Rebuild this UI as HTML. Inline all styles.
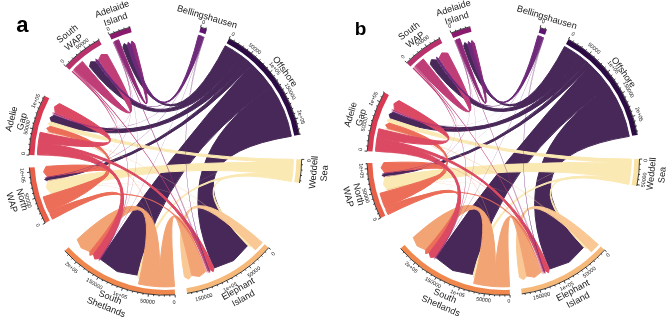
<!DOCTYPE html><html><head><meta charset="utf-8"><style>html,body{margin:0;padding:0;background:#fff;}svg{display:block;will-change:transform;}</style></head><body><svg width="669" height="320" viewBox="0 0 669 320" font-family="Liberation Sans, sans-serif">
<rect width="669" height="320" fill="#fff"/>
<g transform="translate(0,0)">
<g>
<path d="M225.25,45.78A128,128 0 0 1 232.04,49.65Q164.85,163.44 122.91,47.19L124.16,43.53L127.43,45.58Q164.88,163.71 225.25,45.78Z" fill="#472858" fill-opacity="1" stroke="#472858" stroke-opacity="1" stroke-width="1.0"/>
<path d="M232.04,49.65A128,128 0 0 1 241.31,55.87Q165.35,162.36 89.5,66.56L90.69,61.78L95.62,61.86Q165.41,162.77 232.04,49.65Z" fill="#472858" fill-opacity="1" stroke="#472858" stroke-opacity="1" stroke-width="1.0"/>
<path d="M241.31,55.87A128,128 0 0 1 247.63,60.85Q165.75,160.62 51.63,122.17L49.98,117.71L54.09,115.3Q165.84,160.94 241.31,55.87Z" fill="#472858" fill-opacity="1" stroke="#472858" stroke-opacity="1" stroke-width="1.0"/>
<path d="M247.63,60.85A128,128 0 0 1 251.66,64.38Q165.48,159.2 47.85,180.68L44.6,179.54L47.29,177.39Q165.56,159.37 247.63,60.85Z" fill="#472858" fill-opacity="1" stroke="#472858" stroke-opacity="1" stroke-width="1.0"/>
<path d="M251.66,64.38A128,128 0 0 1 271.47,87.32Q164.83,158.61 137.86,275.19L117.19,271.54L100.27,259.12Q165.35,158.9 251.66,64.38Z" fill="#472858" fill-opacity="1" stroke="#472858" stroke-opacity="1" stroke-width="1.0"/>
<path d="M271.47,87.32A128,128 0 0 1 291.33,136.23Q161.18,157.62 247.76,245.44L233.67,260.58L214.34,267.9Q163.07,158.35 271.47,87.32Z" fill="#472858" fill-opacity="1" stroke="#472858" stroke-opacity="1" stroke-width="1.0"/>
<path d="M293.35,159.35A128,128 0 0 1 293.28,163.14Q165.35,158.9 50.36,126.36L48.11,123.39L51.63,122.17Q165.35,158.9 293.35,159.35Z" fill="#fbe9b4" fill-opacity="1" stroke="#fbe9b4" stroke-opacity="1" stroke-width="1.0"/>
<path d="M293.28,163.14A128,128 0 0 1 292.2,176.05Q165.35,158.9 50.95,193.44L46.31,187.81L47.85,180.68Q165.35,158.9 293.28,163.14Z" fill="#fbe9b4" fill-opacity="1" stroke="#fbe9b4" stroke-opacity="1" stroke-width="1.0"/>
<path d="M292.2,176.05A128,128 0 0 1 291.77,178.92Q163.77,156.77 140.3,275.75L138.42,278.4L137.86,275.19Q163.83,156.86 292.2,176.05Z" fill="#fbe9b4" fill-opacity="1" stroke="#fbe9b4" stroke-opacity="1" stroke-width="1.0"/>
<path d="M291.77,178.92A128,128 0 0 1 291.33,181.57Q160.58,156.46 249.41,243.84L250.68,246.8L247.76,245.44Q160.67,156.51 291.77,178.92Z" fill="#fbe9b4" fill-opacity="1" stroke="#fbe9b4" stroke-opacity="1" stroke-width="1.0"/>
<path d="M293.34,160.24A128,128 0 0 1 293.34,160.69Q163.84,157.17 141.12,275.92L140.3,278.81L140.71,275.83Q163.85,157.19 293.34,160.24Z" fill="#fbe9b4" fill-opacity="0.75" stroke="#fbe9b4" stroke-opacity="0.75" stroke-width="0.0"/>
<path d="M262.25,242.54A128,128 0 0 1 255.38,249.88Q162.65,154.09 191.83,275.43L188.72,279.15L184.46,276.86Q162.79,154.45 262.25,242.54Z" fill="#f9c894" fill-opacity="1" stroke="#f9c894" stroke-opacity="1" stroke-width="1.0"/>
<path d="M255.86,249.41A128,128 0 0 1 255.54,249.73Q165.39,158.81 48.91,132.02L46.04,131.14L49.01,131.61Q165.38,158.82 255.86,249.41Z" fill="#f9c894" fill-opacity="0.75" stroke="#f9c894" stroke-opacity="0.75" stroke-width="0.0"/>
<path d="M256.18,249.09A128,128 0 0 1 255.86,249.41Q165.63,157.43 51.07,193.84L48.14,194.51L50.95,193.44Q165.62,157.45 256.18,249.09Z" fill="#f9c894" fill-opacity="0.75" stroke="#f9c894" stroke-opacity="0.75" stroke-width="0.0"/>
<path d="M256.49,248.78A128,128 0 0 1 256.18,249.09Q164.03,154.77 140.71,275.83L139.88,278.72L140.3,275.75Q164.04,154.79 256.49,248.78Z" fill="#f9c894" fill-opacity="0.75" stroke="#f9c894" stroke-opacity="0.75" stroke-width="0.0"/>
<path d="M256.8,248.46A128,128 0 0 1 256.49,248.78Q165.39,158.81 48.68,133.04L45.8,132.18L48.77,132.63Q165.38,158.83 256.8,248.46Z" fill="#f9c894" fill-opacity="0.75" stroke="#f9c894" stroke-opacity="0.75" stroke-width="0.0"/>
<path d="M174.5,286.57A128,128 0 0 1 158.65,286.72Q164.53,153.02 205.63,271.41L199.63,276.51L191.83,275.43Q164.4,152.38 174.5,286.57Z" fill="#f3a475" fill-opacity="1" stroke="#f3a475" stroke-opacity="1" stroke-width="1.0"/>
<path d="M158.65,286.72A128,128 0 0 1 138.52,284.06Q167.79,153.7 89.98,251.64L81.26,247.98L77.1,239.48Q167.39,154.42 158.65,286.72Z" fill="#f3a475" fill-opacity="1" stroke="#f3a475" stroke-opacity="1" stroke-width="1.0"/>
<path d="M159.32,286.76A128,128 0 0 1 158.87,286.74Q167.15,157.42 48.87,132.22L45.99,131.34L48.96,131.82Q167.14,157.43 159.32,286.76Z" fill="#f3a475" fill-opacity="0.75" stroke="#f3a475" stroke-opacity="0.75" stroke-width="0.0"/>
<path d="M159.77,286.78A128,128 0 0 1 159.32,286.76Q167.56,155.9 51.13,194.04L48.2,194.72L51.01,193.64Q167.55,155.92 159.77,286.78Z" fill="#f3a475" fill-opacity="0.75" stroke="#f3a475" stroke-opacity="0.75" stroke-width="0.0"/>
<path d="M160.21,286.8A128,128 0 0 1 159.77,286.78Q167.14,157.41 48.77,132.63L45.89,131.76L48.87,132.22Q167.12,157.43 160.21,286.8Z" fill="#f3a475" fill-opacity="0.75" stroke="#f3a475" stroke-opacity="0.75" stroke-width="0.0"/>
<path d="M52.44,219.19A128,128 0 0 1 49.92,214.21Q169.81,155.31 93.43,254.34L89.85,255.37L89.98,251.64Q169.96,155.16 52.44,219.19Z" fill="#ec6d58" fill-opacity="1" stroke="#ec6d58" stroke-opacity="1" stroke-width="1.0"/>
<path d="M49.92,214.21A128,128 0 0 1 48.78,211.78Q166.53,156.23 209.73,269.85L210.05,272.95L208.17,270.46Q166.55,156.14 49.92,214.21Z" fill="#ec6d58" fill-opacity="1" stroke="#ec6d58" stroke-opacity="1" stroke-width="0.0"/>
<path d="M48.78,211.78A128,128 0 0 1 46.75,207.06Q170.68,158.43 49.01,131.61L46.75,128.23L50.36,126.36Q170.45,158.45 48.78,211.78Z" fill="#ec6d58" fill-opacity="1" stroke="#ec6d58" stroke-opacity="1" stroke-width="1.0"/>
<path d="M46.75,207.06A128,128 0 0 1 43.14,196.96Q171.77,157.41 47.16,176.56L43.53,171.81L46.09,166.4Q171.33,157.5 46.75,207.06Z" fill="#ec6d58" fill-opacity="1" stroke="#ec6d58" stroke-opacity="1" stroke-width="1.0"/>
<path d="M49.06,212.39A128,128 0 0 1 48.87,211.98Q166.52,156.23 210.12,269.7L211.04,272.56L209.73,269.85Q166.53,156.21 49.06,212.39Z" fill="#ec6d58" fill-opacity="0.75" stroke="#ec6d58" stroke-opacity="0.75" stroke-width="0.0"/>
<path d="M49.44,213.2A128,128 0 0 1 49.25,212.79Q166.58,156.15 207,270.91L207.85,273.79L206.61,271.05Q166.59,156.14 49.44,213.2Z" fill="#ec6d58" fill-opacity="0.75" stroke="#ec6d58" stroke-opacity="0.75" stroke-width="0.0"/>
<path d="M37.4,155.33A128,128 0 0 1 37.43,154.43Q171.83,158.53 47.29,177.39L44.26,177.43L47.16,176.56Q171.87,158.53 37.4,155.33Z" fill="#db4a62" fill-opacity="0.75" stroke="#db4a62" stroke-opacity="0.75" stroke-width="0.0"/>
<path d="M37.43,154.43A128,128 0 0 1 38.05,145.52Q169.07,157.23 99.57,258.66L94.74,259L93.43,254.34Q169.38,157.06 37.43,154.43Z" fill="#db4a62" fill-opacity="1" stroke="#db4a62" stroke-opacity="1" stroke-width="1.0"/>
<path d="M38.05,145.52A128,128 0 0 1 38.47,141.97Q166.21,157.89 213.96,268.07L213.21,271.66L210.12,269.7Q166.32,157.76 38.05,145.52Z" fill="#db4a62" fill-opacity="1" stroke="#db4a62" stroke-opacity="1" stroke-width="1.0"/>
<path d="M38.47,141.97A128,128 0 0 1 40.15,132.29Q171.56,160.82 55.19,112.59L54.51,106.74L59.45,103.54Q171.14,160.7 38.47,141.97Z" fill="#db4a62" fill-opacity="1" stroke="#db4a62" stroke-opacity="1" stroke-width="1.0"/>
<path d="M37.4,155.33A128,128 0 0 1 37.41,154.88Q166.46,157.52 206.61,271.05L207.45,273.94L206.22,271.19Q166.47,157.5 37.4,155.33Z" fill="#db4a62" fill-opacity="0.75" stroke="#db4a62" stroke-opacity="0.75" stroke-width="0.0"/>
<path d="M71.58,71.77A128,128 0 0 1 72.66,70.63Q170.36,162.17 54.47,114.33L52.01,112.42L55.11,112.78Q170.42,162.21 71.58,71.77Z" fill="#c03e78" fill-opacity="1" stroke="#c03e78" stroke-opacity="1" stroke-width="0.0"/>
<path d="M73.12,70.14A128,128 0 0 1 73.74,69.5Q167.62,158.74 100.27,259.12L98.27,261.4L99.57,258.66Q167.65,158.74 73.12,70.14Z" fill="#c03e78" fill-opacity="0.75" stroke="#c03e78" stroke-opacity="0.75" stroke-width="0.0"/>
<path d="M73.74,69.5A128,128 0 0 1 74.52,68.71Q165.35,158.9 208.17,270.46L208.75,273.45L207.2,270.83Q165.35,158.9 73.74,69.5Z" fill="#c03e78" fill-opacity="1" stroke="#c03e78" stroke-opacity="1" stroke-width="0.0"/>
<path d="M74.52,68.71A128,128 0 0 1 82.39,61.42Q169.41,164.23 98.53,59.83L101.25,54.51L107.23,54.48Q169.15,163.86 74.52,68.71Z" fill="#c03e78" fill-opacity="1" stroke="#c03e78" stroke-opacity="1" stroke-width="1.0"/>
<path d="M73.12,70.14A128,128 0 0 1 73.43,69.82Q169.64,160.35 47.26,177.18L44.26,177.43L47.19,176.77Q169.66,160.35 73.12,70.14Z" fill="#c03e78" fill-opacity="0.75" stroke="#c03e78" stroke-opacity="0.75" stroke-width="0.0"/>
<path d="M73.74,69.5A128,128 0 0 1 74.05,69.18Q165.35,158.9 208.95,270.16L209.85,273.03L208.56,270.31Q165.35,158.9 73.74,69.5Z" fill="#c03e78" fill-opacity="0.75" stroke="#c03e78" stroke-opacity="0.75" stroke-width="0.0"/>
<path d="M73.43,69.82A128,128 0 0 1 73.74,69.5Q167.61,158.74 100.62,259.35L98.81,261.75L100.27,259.12Q167.63,158.74 73.43,69.82Z" fill="#c03e78" fill-opacity="0.75" stroke="#c03e78" stroke-opacity="0.75" stroke-width="0.0"/>
<path d="M112.68,42.24A128,128 0 0 1 113.49,41.88Q168.85,162.36 54.24,114.91L51.57,113.51L54.47,114.33Q168.88,162.38 112.68,42.24Z" fill="#8e2a78" fill-opacity="0.75" stroke="#8e2a78" stroke-opacity="0.75" stroke-width="0.0"/>
<path d="M113.49,41.88A128,128 0 0 1 114.11,41.61Q165.35,158.9 208.76,270.24L209.55,273.15L208.17,270.46Q165.35,158.9 113.49,41.88Z" fill="#8e2a78" fill-opacity="0.75" stroke="#8e2a78" stroke-opacity="0.75" stroke-width="0.0"/>
<path d="M114.11,41.61A128,128 0 0 1 114.52,41.43Q168.3,160.57 47.93,181.09L44.94,181.43L47.85,180.68Q168.32,160.58 114.11,41.61Z" fill="#8e2a78" fill-opacity="0.75" stroke="#8e2a78" stroke-opacity="0.75" stroke-width="0.0"/>
<path d="M114.52,41.43A128,128 0 0 1 118.65,39.72Q167.58,165.31 130.81,44.5L131.89,41.06L134.62,43.42Q167.53,165.13 114.52,41.43Z" fill="#8e2a78" fill-opacity="1" stroke="#8e2a78" stroke-opacity="1" stroke-width="1.0"/>
<path d="M114.11,41.61A128,128 0 0 1 114.52,41.43Q166.57,159.08 100.27,259.12L98.45,261.52L99.92,258.89Q166.59,159.08 114.11,41.61Z" fill="#8e2a78" fill-opacity="0.75" stroke="#8e2a78" stroke-opacity="0.75" stroke-width="0.0"/>
<path d="M113.7,41.79A128,128 0 0 1 114.11,41.61Q165.35,158.9 209.73,269.85L210.64,272.72L209.34,270.01Q165.35,158.9 113.7,41.79Z" fill="#8e2a78" fill-opacity="0.75" stroke="#8e2a78" stroke-opacity="0.75" stroke-width="0.0"/>
<path d="M198.48,35.26A128,128 0 0 1 201.92,36.23Q165.38,164.26 127.43,45.58L128.21,42.17L130.81,44.5Q165.38,164.42 198.48,35.26Z" fill="#6d2a7a" fill-opacity="1" stroke="#6d2a7a" stroke-opacity="1" stroke-width="1.0"/>
<path d="M201.92,36.23A128,128 0 0 1 203.63,36.76Q165.99,163.38 95.79,61.73L95.26,58.43L98.18,60.06Q165.98,163.49 201.92,36.23Z" fill="#6d2a7a" fill-opacity="1" stroke="#6d2a7a" stroke-opacity="1" stroke-width="0.0"/>
<path d="M203.63,36.76A128,128 0 0 1 204.05,36.89Q166.54,161.63 54.09,115.3L51.37,114L54.24,114.91Q166.55,161.64 203.63,36.76Z" fill="#6d2a7a" fill-opacity="0.75" stroke="#6d2a7a" stroke-opacity="0.75" stroke-width="0.0"/>
<path d="M204.05,36.89A128,128 0 0 1 204.48,37.03Q164.91,158.96 209.34,270.01L210.15,272.92L208.76,270.24Q164.94,158.95 204.05,36.89Z" fill="#6d2a7a" fill-opacity="0.75" stroke="#6d2a7a" stroke-opacity="0.75" stroke-width="0.0"/>
<path d="M204.05,36.89A128,128 0 0 1 204.48,37.03Q165.35,158.9 100.09,259.01L98.27,261.4L99.74,258.78Q165.35,158.9 204.05,36.89Z" fill="#6d2a7a" fill-opacity="0.75" stroke="#6d2a7a" stroke-opacity="0.75" stroke-width="0.0"/>
<path d="M203.63,36.76A128,128 0 0 1 204.05,36.89Q166.3,160.14 47.29,177.39L44.29,177.64L47.22,176.98Q166.31,160.16 203.63,36.76Z" fill="#6d2a7a" fill-opacity="0.75" stroke="#6d2a7a" stroke-opacity="0.75" stroke-width="0.0"/>
<path d="M203.2,36.62A128,128 0 0 1 203.63,36.76Q164.93,158.96 209.34,270.01L210.25,272.88L208.95,270.16Q164.95,158.95 203.2,36.62Z" fill="#6d2a7a" fill-opacity="0.75" stroke="#6d2a7a" stroke-opacity="0.75" stroke-width="0.0"/>
</g>
<path d="M228.99,38.71A136,136 0 0 1 299.2,134.82L294.28,135.7A131,131 0 0 0 226.65,43.13Z" fill="#2d0b45"/>
<path d="M301.35,159.37A136,136 0 0 1 299.2,182.98L294.28,182.1A131,131 0 0 0 296.35,159.36Z" fill="#f9e2a4"/>
<path d="M268.46,247.59A136,136 0 0 1 187.09,293.15L186.29,288.21A131,131 0 0 0 264.67,244.32Z" fill="#f7b97a"/>
<path d="M175.07,294.55A136,136 0 0 1 64.92,250.61L68.61,247.23A131,131 0 0 0 174.72,289.56Z" fill="#f0884e"/>
<path d="M45.38,222.96A136,136 0 0 1 29.62,167.44L34.61,167.13A131,131 0 0 0 49.79,220.6Z" fill="#e8604a"/>
<path d="M29.4,155.1A136,136 0 0 1 44.83,95.89L49.26,98.21A131,131 0 0 0 34.4,155.24Z" fill="#d93a52"/>
<path d="M65.72,66.32A136,136 0 0 1 99.21,40.07L101.64,44.44A131,131 0 0 0 69.39,69.73Z" fill="#b8306c"/>
<path d="M109.38,34.95A136,136 0 0 1 130.38,27.47L131.67,32.3A131,131 0 0 0 111.44,39.51Z" fill="#8a1a6e"/>
<path d="M200.55,27.53A136,136 0 0 1 206.92,29.41L205.4,34.17A131,131 0 0 0 199.26,32.36Z" fill="#5e1672"/>
<path d="M229.13,38.44A136.3,136.3 0 0 1 299.5,134.76M229.13,38.44L230.35,36.14M233.8,41.04L234.51,39.83M238.38,43.81L239.13,42.63M242.83,46.77L243.63,45.61M247.17,49.89L248.01,48.77M251.38,53.18L253.03,51.17M255.47,56.64L256.39,55.59M259.41,60.25L260.37,59.24M263.2,64.02L264.21,63.05M266.85,67.93L267.89,67M270.34,71.98L272.34,70.32M273.67,76.17L274.78,75.32M276.83,80.48L277.98,79.67M279.82,84.91L281,84.15M282.64,89.46L283.84,88.75M285.27,94.11L287.56,92.88M287.72,98.87L288.97,98.25M289.98,103.71L291.26,103.15M292.05,108.65L293.35,108.13M293.92,113.65L295.24,113.19M295.6,118.73L298.08,117.97M297.07,123.87L298.42,123.51M298.34,129.06L299.71,128.76M299.41,134.3L300.79,134.05M301.65,159.38A136.3,136.3 0 0 1 299.5,183.04M301.65,159.38L304.25,159.38M301.53,164.72L302.92,164.78M301.19,170.06L302.59,170.17M300.65,175.38L302.04,175.55M299.9,180.67L301.28,180.9M268.68,247.78A136.3,136.3 0 0 1 187.14,293.45M268.68,247.78L270.65,249.48M265.12,251.77L266.14,252.72M261.4,255.61L262.38,256.6M257.53,259.3L258.48,260.33M253.52,262.84L254.43,263.91M249.38,266.22L250.98,268.27M245.1,269.43L245.92,270.57M240.71,272.47L241.48,273.64M236.19,275.34L236.92,276.54M231.57,278.03L232.25,279.26M226.85,280.54L228.02,282.86M222.03,282.86L222.61,284.13M217.12,284.98L217.65,286.28M212.14,286.92L212.62,288.23M207.08,288.65L207.51,289.99M201.96,290.19L202.66,292.7M196.78,291.53L197.1,292.89M191.55,292.66L191.82,294.03M175.1,294.85A136.3,136.3 0 0 1 64.7,250.81M175.1,294.85L175.28,297.44M169.75,295.13L169.8,296.53M164.41,295.2L164.4,296.6M159.06,295.05L159,296.45M153.73,294.7L153.61,296.1M148.41,294.14L148.09,296.72M143.12,293.37L142.89,294.76M137.86,292.4L137.58,293.77M132.64,291.22L132.31,292.58M127.48,289.83L127.09,291.18M122.37,288.25L121.55,290.71M117.33,286.46L116.84,287.77M112.37,284.48L111.82,285.77M107.48,282.3L106.89,283.57M102.68,279.94L102.04,281.18M97.98,277.39L96.7,279.65M93.39,274.66L92.65,275.84M88.9,271.74L88.12,272.9M84.54,268.66L83.71,269.79M80.29,265.4L79.42,266.5M76.18,261.99L74.48,263.95M72.21,258.41L71.25,259.43M68.37,254.68L67.38,255.66M45.12,223.1A136.3,136.3 0 0 1 29.32,167.46M45.12,223.1L42.82,224.32M42.69,218.33L41.43,218.94M40.45,213.48L39.17,214.04M38.41,208.54L37.11,209.05M36.56,203.52L35.24,203.98M34.91,198.43L32.42,199.19M33.46,193.28L32.1,193.64M32.21,188.08L30.84,188.38M31.17,182.84L29.79,183.09M30.33,177.56L28.95,177.75M29.71,172.25L27.12,172.5M29.1,155.09A136.3,136.3 0 0 1 44.56,95.75M29.1,155.09L26.5,155.02M29.36,149.75L27.96,149.66M29.82,144.43L28.43,144.28M30.49,139.12L29.11,138.92M31.37,133.85L30,133.59M32.46,128.61L29.92,128.03M33.75,123.42L32.4,123.06M35.24,118.29L33.91,117.87M36.93,113.21L35.62,112.74M38.83,108.21L37.53,107.69M40.91,103.29L38.54,102.23M43.19,98.45L41.93,97.83M65.5,66.12A136.3,136.3 0 0 1 99.06,39.8M65.5,66.12L63.6,64.35M69.22,62.27L68.23,61.28M73.08,58.58L72.14,57.55M77.09,55.03L76.18,53.97M81.23,51.65L80.37,50.55M85.5,48.44L83.98,46.33M89.9,45.39L89.12,44.22M94.41,42.52L93.68,41.32M99.03,39.82L98.35,38.6M109.26,34.68A136.3,136.3 0 0 1 130.3,27.18M109.26,34.68L108.19,32.31M114.18,32.57L113.65,31.27M119.17,30.66L118.7,29.34M124.24,28.95L123.81,27.61M129.37,27.44L129,26.09M200.63,27.24A136.3,136.3 0 0 1 207.02,29.12M200.63,27.24L201.3,24.73M205.76,28.73L206.18,27.39" fill="none" stroke="#000" stroke-width="0.75"/>
<g font-size="5.3" fill="#111"><text transform="translate(231,34.91) rotate(27.9)" text-anchor="start" dy="0">0</text><text transform="translate(253.91,50.08) rotate(39.14)" text-anchor="middle" dy="0">50000</text><text transform="translate(273.42,69.43) rotate(50.38)" text-anchor="middle" dy="0">1e+05</text><text transform="translate(288.79,92.21) rotate(61.62)" text-anchor="middle" dy="0">150000</text><text transform="translate(299.42,117.55) rotate(72.86)" text-anchor="middle" dy="0">2e+05</text><text transform="translate(305.65,159.39) rotate(-89.8)" text-anchor="end" dy="5.0">0</text><text transform="translate(271.72,250.39) rotate(-49.3)" text-anchor="end" dy="5.0">0</text><text transform="translate(251.84,269.37) rotate(-38.06)" text-anchor="middle" dy="5.0">50000</text><text transform="translate(228.65,284.11) rotate(-26.82)" text-anchor="middle" dy="5.0">1e+05</text><text transform="translate(203.03,294.04) rotate(-15.58)" text-anchor="middle" dy="5.0">150000</text><text transform="translate(175.38,298.84) rotate(-4.1)" text-anchor="end" dy="5.0">0</text><text transform="translate(147.91,298.11) rotate(7.14)" text-anchor="middle" dy="5.0">50000</text><text transform="translate(121.11,292.04) rotate(18.38)" text-anchor="middle" dy="5.0">1e+05</text><text transform="translate(96.01,280.87) rotate(29.62)" text-anchor="middle" dy="5.0">150000</text><text transform="translate(73.56,265.01) rotate(40.86)" text-anchor="middle" dy="5.0">2e+05</text><text transform="translate(41.59,224.98) rotate(61.9)" text-anchor="end" dy="5.0">0</text><text transform="translate(31.08,199.59) rotate(73.14)" text-anchor="middle" dy="5.0">50000</text><text transform="translate(25.98,175.05) rotate(83.39)" text-anchor="middle" dy="5.0">1e+05</text><text transform="translate(25.1,154.98) rotate(271.6)" text-anchor="start" dy="0">0</text><text transform="translate(28.56,127.72) rotate(282.84)" text-anchor="middle" dy="0">50000</text><text transform="translate(37.26,101.66) rotate(294.08)" text-anchor="middle" dy="0">1e+05</text><text transform="translate(62.57,63.39) rotate(312.9)" text-anchor="start" dy="0">0</text><text transform="translate(83.16,45.19) rotate(324.14)" text-anchor="middle" dy="0">50000</text><text transform="translate(107.61,31.03) rotate(335.7)" text-anchor="start" dy="0">0</text><text transform="translate(201.66,23.38) rotate(375)" text-anchor="start" dy="0">0</text></g>
<g font-size="9.2" fill="#1a1a1a"><text transform="translate(285.26,71.3) rotate(53.85)" text-anchor="middle" dy="0.35em">Offshore</text><text transform="translate(313.24,172.36) rotate(-84.8)" text-anchor="middle" dy="0.35em">Weddell</text><text transform="translate(323.99,173.34) rotate(-84.8)" text-anchor="middle" dy="0.35em">Sea</text><text transform="translate(237.91,288.47) rotate(-29.25)" text-anchor="middle" dy="0.35em">Elephant</text><text transform="translate(243.19,297.89) rotate(-29.25)" text-anchor="middle" dy="0.35em">Island</text><text transform="translate(110.32,296.83) rotate(21.75)" text-anchor="middle" dy="0.35em">South</text><text transform="translate(106.32,306.86) rotate(21.75)" text-anchor="middle" dy="0.35em">Shetlands</text><text transform="translate(22.5,199.46) rotate(74.15)" text-anchor="middle" dy="0.35em">North</text><text transform="translate(12.11,202.41) rotate(74.15)" text-anchor="middle" dy="0.35em">WAP</text><text transform="translate(11.19,118.75) rotate(284.6)" text-anchor="middle" dy="0.35em">Adelie</text><text transform="translate(21.65,121.47) rotate(284.6)" text-anchor="middle" dy="0.35em">Gap</text><text transform="translate(67.06,33.54) rotate(321.9)" text-anchor="middle" dy="0.35em">South</text><text transform="translate(73.72,42.04) rotate(321.9)" text-anchor="middle" dy="0.35em">WAP</text><text transform="translate(111.91,8.83) rotate(340.4)" text-anchor="middle" dy="0.35em">Adelaide</text><text transform="translate(115.54,19) rotate(340.4)" text-anchor="middle" dy="0.35em">Island</text><text transform="translate(207.28,16.44) rotate(376.4)" text-anchor="middle" dy="0.35em">Bellingshausen</text></g>
<text x="16.2" y="31.8" font-size="22" font-weight="bold" fill="#000">a</text>
</g>
<g transform="translate(0,0)">
<g>
<path d="M564.53,46.52A128,128 0 0 1 571.2,50.42Q502.68,163.46 463.67,46.15L464.78,42.6L467.78,44.79Q502.71,163.73 564.53,46.52Z" fill="#472858" fill-opacity="1" stroke="#472858" stroke-opacity="1" stroke-width="1.0"/>
<path d="M571.2,50.42A128,128 0 0 1 580.29,56.67Q503.19,162.41 430.22,64.32L431.45,59.66L436.26,59.95Q503.24,162.81 571.2,50.42Z" fill="#472858" fill-opacity="1" stroke="#472858" stroke-opacity="1" stroke-width="1.0"/>
<path d="M580.29,56.67A128,128 0 0 1 586.47,61.64Q503.64,160.68 390.62,118.99L389.09,114.49L393.26,112.21Q503.72,161 580.29,56.67Z" fill="#472858" fill-opacity="1" stroke="#472858" stroke-opacity="1" stroke-width="1.0"/>
<path d="M586.47,61.64A128,128 0 0 1 590.47,65.21Q503.41,159.27 385.08,176.65L381.88,175.43L384.64,173.4Q503.49,159.44 586.47,61.64Z" fill="#472858" fill-opacity="1" stroke="#472858" stroke-opacity="1" stroke-width="1.0"/>
<path d="M590.47,65.21A128,128 0 0 1 609.38,87.32Q502.8,158.63 473.18,274.55L452.58,270.42L435.92,257.62Q503.26,158.9 590.47,65.21Z" fill="#472858" fill-opacity="1" stroke="#472858" stroke-opacity="1" stroke-width="1.0"/>
<path d="M609.38,87.32A128,128 0 0 1 629.26,136.37Q499.16,157.59 583.75,247.23L569.26,262.1L549.68,269.01Q501.05,158.34 609.38,87.32Z" fill="#472858" fill-opacity="1" stroke="#472858" stroke-opacity="1" stroke-width="1.0"/>
<path d="M631.26,159.08A128,128 0 0 1 631.18,163.41Q503.26,158.9 389.23,123.14L387.06,120.11L390.62,118.99Q503.26,158.9 631.26,159.08Z" fill="#fbe9b4" fill-opacity="1" stroke="#fbe9b4" stroke-opacity="1" stroke-width="1.0"/>
<path d="M631.18,163.41A128,128 0 0 1 629.58,179.59Q503.26,158.9 388.16,191.04L383.47,184.52L385.08,176.65Q503.26,158.9 631.18,163.41Z" fill="#fbe9b4" fill-opacity="1" stroke="#fbe9b4" stroke-opacity="1" stroke-width="1.0"/>
<path d="M629.58,179.59A128,128 0 0 1 629.14,182.12Q501.73,156.72 475.61,275.16L473.67,277.77L473.18,274.55Q501.79,156.81 629.58,179.59Z" fill="#fbe9b4" fill-opacity="1" stroke="#fbe9b4" stroke-opacity="1" stroke-width="1.0"/>
<path d="M629.14,182.12A128,128 0 0 1 628.7,184.38Q498.54,156.35 585.44,245.65L586.64,248.64L583.75,247.23Q498.63,156.4 629.14,182.12Z" fill="#fbe9b4" fill-opacity="1" stroke="#fbe9b4" stroke-opacity="1" stroke-width="1.0"/>
<path d="M631.25,160.11A128,128 0 0 1 631.25,160.6Q501.81,157.21 476.42,275.35L475.54,278.22L476.01,275.25Q501.82,157.22 631.25,160.11Z" fill="#fbe9b4" fill-opacity="0.75" stroke="#fbe9b4" stroke-opacity="0.75" stroke-width="0.0"/>
<path d="M598.34,244.6A128,128 0 0 1 591.29,251.82Q500.68,154.04 526.9,276.04L523.69,279.68L519.46,277.3Q500.81,154.4 598.34,244.6Z" fill="#f9c894" fill-opacity="1" stroke="#f9c894" stroke-opacity="1" stroke-width="1.0"/>
<path d="M591.77,251.36A128,128 0 0 1 591.45,251.67Q503.29,158.82 387.63,128.74L384.78,127.77L387.74,128.33Q503.29,158.84 591.77,251.36Z" fill="#f9c894" fill-opacity="0.75" stroke="#f9c894" stroke-opacity="0.75" stroke-width="0.0"/>
<path d="M592.1,251.05A128,128 0 0 1 591.77,251.36Q503.57,157.48 387.78,189.63L384.83,190.2L387.68,189.24Q503.57,157.5 592.1,251.05Z" fill="#f9c894" fill-opacity="0.75" stroke="#f9c894" stroke-opacity="0.75" stroke-width="0.0"/>
<path d="M592.42,250.74A128,128 0 0 1 592.1,251.05Q502.03,154.74 476.01,275.25L475.12,278.12L475.61,275.16Q502.04,154.76 592.42,250.74Z" fill="#f9c894" fill-opacity="0.75" stroke="#f9c894" stroke-opacity="0.75" stroke-width="0.0"/>
<path d="M592.74,250.43A128,128 0 0 1 592.42,250.74Q503.29,158.83 387.37,129.75L384.51,128.81L387.47,129.34Q503.28,158.84 592.74,250.43Z" fill="#f9c894" fill-opacity="0.75" stroke="#f9c894" stroke-opacity="0.75" stroke-width="0.0"/>
<path d="M509.58,286.74A128,128 0 0 1 493.71,286.54Q502.57,153 540.86,272.33L534.71,277.29L526.9,276.04Q502.46,152.35 509.58,286.74Z" fill="#f3a475" fill-opacity="1" stroke="#f3a475" stroke-opacity="1" stroke-width="1.0"/>
<path d="M493.71,286.54A128,128 0 0 1 473.64,283.43Q505.81,153.76 425.81,249.9L417.16,246.04L413.2,237.44Q505.4,154.47 493.71,286.54Z" fill="#f3a475" fill-opacity="1" stroke="#f3a475" stroke-opacity="1" stroke-width="1.0"/>
<path d="M494.38,286.59A128,128 0 0 1 493.93,286.56Q505.09,157.47 387.58,128.94L384.73,127.98L387.68,128.54Q505.07,157.48 494.38,286.59Z" fill="#f3a475" fill-opacity="0.75" stroke="#f3a475" stroke-opacity="0.75" stroke-width="0.0"/>
<path d="M494.82,286.62A128,128 0 0 1 494.38,286.59Q505.53,156 387.83,189.83L384.88,190.4L387.72,189.43Q505.52,156.01 494.82,286.62Z" fill="#f3a475" fill-opacity="0.75" stroke="#f3a475" stroke-opacity="0.75" stroke-width="0.0"/>
<path d="M495.29,286.65A128,128 0 0 1 494.82,286.62Q505.07,157.47 387.47,129.34L384.62,128.39L387.58,128.94Q505.06,157.48 495.29,286.65Z" fill="#f3a475" fill-opacity="0.75" stroke="#f3a475" stroke-opacity="0.75" stroke-width="0.0"/>
<path d="M387.99,214.55A128,128 0 0 1 385.73,209.61Q507.79,155.48 429.2,252.68L425.59,253.63L425.81,249.9Q507.95,155.33 387.99,214.55Z" fill="#ec6d58" fill-opacity="1" stroke="#ec6d58" stroke-opacity="1" stroke-width="1.0"/>
<path d="M385.73,209.61A128,128 0 0 1 384.71,207.16Q504.5,156.31 545.11,270.83L545.36,273.94L543.54,271.41Q504.53,156.22 385.73,209.61Z" fill="#ec6d58" fill-opacity="1" stroke="#ec6d58" stroke-opacity="1" stroke-width="0.0"/>
<path d="M384.71,207.16A128,128 0 0 1 382.9,202.45Q508.63,158.6 387.74,128.33L385.57,124.9L389.23,123.14Q508.41,158.62 384.71,207.16Z" fill="#ec6d58" fill-opacity="1" stroke="#ec6d58" stroke-opacity="1" stroke-width="1.0"/>
<path d="M382.9,202.45A128,128 0 0 1 379.98,193.32Q509.71,157.62 384.55,172.59L381.09,167.83L383.82,162.61Q509.3,157.71 382.9,202.45Z" fill="#ec6d58" fill-opacity="1" stroke="#ec6d58" stroke-opacity="1" stroke-width="1.0"/>
<path d="M384.95,207.76A128,128 0 0 1 384.78,207.35Q504.5,156.31 545.4,270.72L546.26,273.6L545.01,270.87Q504.5,156.29 384.95,207.76Z" fill="#ec6d58" fill-opacity="0.75" stroke="#ec6d58" stroke-opacity="0.75" stroke-width="0.0"/>
<path d="M385.29,208.56A128,128 0 0 1 385.12,208.17Q504.56,156.23 542.24,271.86L543.02,274.77L541.85,272Q504.57,156.22 385.29,208.56Z" fill="#ec6d58" fill-opacity="0.75" stroke="#ec6d58" stroke-opacity="0.75" stroke-width="0.0"/>
<path d="M375.46,151.67A128,128 0 0 1 375.52,150.77Q509.76,158.73 384.64,173.4L381.62,173.35L384.55,172.59Q509.8,158.73 375.46,151.67Z" fill="#db4a62" fill-opacity="0.75" stroke="#db4a62" stroke-opacity="0.75" stroke-width="0.0"/>
<path d="M375.52,150.77A128,128 0 0 1 376.39,141.9Q507.01,157.34 435.23,257.15L430.39,257.37L429.2,252.68Q507.33,157.17 375.52,150.77Z" fill="#db4a62" fill-opacity="1" stroke="#db4a62" stroke-opacity="1" stroke-width="1.0"/>
<path d="M376.39,141.9A128,128 0 0 1 376.92,138.37Q504.13,157.92 549.3,269.18L548.46,272.75L545.4,270.72Q504.25,157.8 376.39,141.9Z" fill="#db4a62" fill-opacity="1" stroke="#db4a62" stroke-opacity="1" stroke-width="1.0"/>
<path d="M376.92,138.37A128,128 0 0 1 378.86,128.76Q509.41,161 394.43,109.53L393.91,103.68L398.94,100.62Q509,160.86 376.92,138.37Z" fill="#db4a62" fill-opacity="1" stroke="#db4a62" stroke-opacity="1" stroke-width="1.0"/>
<path d="M375.46,151.67A128,128 0 0 1 375.49,151.22Q504.4,157.56 541.85,272L542.62,274.91L541.45,272.13Q504.41,157.54 375.46,151.67Z" fill="#db4a62" fill-opacity="0.75" stroke="#db4a62" stroke-opacity="0.75" stroke-width="0.0"/>
<path d="M412.53,68.61A128,128 0 0 1 413.61,67.54Q508.16,162.32 393.67,111.25L391.26,109.27L394.35,109.72Q508.21,162.36 412.53,68.61Z" fill="#c03e78" fill-opacity="1" stroke="#c03e78" stroke-opacity="1" stroke-width="0.0"/>
<path d="M414.07,67.09A128,128 0 0 1 414.7,66.48Q505.5,158.81 435.92,257.62L433.88,259.86L435.23,257.15Q505.54,158.81 414.07,67.09Z" fill="#c03e78" fill-opacity="0.75" stroke="#c03e78" stroke-opacity="0.75" stroke-width="0.0"/>
<path d="M414.7,66.48A128,128 0 0 1 415.48,65.75Q503.26,158.9 543.43,271.45L543.93,274.45L542.44,271.79Q503.26,158.9 414.7,66.48Z" fill="#c03e78" fill-opacity="0.75" stroke="#c03e78" stroke-opacity="0.75" stroke-width="0.0"/>
<path d="M415.48,65.75A128,128 0 0 1 423.32,58.94Q507.17,164.35 439.14,58.06L441.86,52.9L447.69,53.11Q506.93,163.99 415.48,65.75Z" fill="#c03e78" fill-opacity="1" stroke="#c03e78" stroke-opacity="1" stroke-width="1.0"/>
<path d="M414.07,67.09A128,128 0 0 1 414.38,66.79Q507.5,160.49 384.62,173.19L381.62,173.35L384.57,172.8Q507.52,160.5 414.07,67.09Z" fill="#c03e78" fill-opacity="0.75" stroke="#c03e78" stroke-opacity="0.75" stroke-width="0.0"/>
<path d="M414.7,66.48A128,128 0 0 1 415,66.19Q503.26,158.9 544.21,271.16L545.04,274.06L543.82,271.31Q503.26,158.9 414.7,66.48Z" fill="#c03e78" fill-opacity="0.75" stroke="#c03e78" stroke-opacity="0.75" stroke-width="0.0"/>
<path d="M414.38,66.79A128,128 0 0 1 414.7,66.48Q505.49,158.81 436.26,257.85L434.4,260.22L435.92,257.62Q505.51,158.8 414.38,66.79Z" fill="#c03e78" fill-opacity="0.75" stroke="#c03e78" stroke-opacity="0.75" stroke-width="0.0"/>
<path d="M454.26,40.65A128,128 0 0 1 455,40.35Q506.65,162.46 393.42,111.82L390.79,110.35L393.67,111.25Q506.68,162.48 454.26,40.65Z" fill="#8e2a78" fill-opacity="0.75" stroke="#8e2a78" stroke-opacity="0.75" stroke-width="0.0"/>
<path d="M455,40.35A128,128 0 0 1 455.56,40.12Q503.26,158.9 544.01,271.24L544.74,274.17L543.43,271.45Q503.26,158.9 455,40.35Z" fill="#8e2a78" fill-opacity="0.75" stroke="#8e2a78" stroke-opacity="0.75" stroke-width="0.0"/>
<path d="M455.56,40.12A128,128 0 0 1 455.93,39.97Q506.17,160.67 385.14,177.04L382.15,177.29L385.08,176.65Q506.18,160.68 455.56,40.12Z" fill="#8e2a78" fill-opacity="0.75" stroke="#8e2a78" stroke-opacity="0.75" stroke-width="0.0"/>
<path d="M455.93,39.97A128,128 0 0 1 459.71,38.54Q505.35,165.38 470.84,43.88L471.8,40.51L474.31,42.96Q505.31,165.22 455.93,39.97Z" fill="#8e2a78" fill-opacity="1" stroke="#8e2a78" stroke-opacity="1" stroke-width="1.0"/>
<path d="M455.56,40.12A128,128 0 0 1 455.93,39.97Q504.45,159.11 435.92,257.62L434.05,259.98L435.57,257.38Q504.47,159.11 455.56,40.12Z" fill="#8e2a78" fill-opacity="0.75" stroke="#8e2a78" stroke-opacity="0.75" stroke-width="0.0"/>
<path d="M455.19,40.27A128,128 0 0 1 455.56,40.12Q503.26,158.9 545.01,270.87L545.86,273.75L544.62,271.01Q503.26,158.9 455.19,40.27Z" fill="#8e2a78" fill-opacity="0.75" stroke="#8e2a78" stroke-opacity="0.75" stroke-width="0.0"/>
<path d="M537.88,35.67A128,128 0 0 1 541.45,36.73Q503.2,164.28 467.78,44.79L468.46,41.45L470.84,43.88Q503.21,164.43 537.88,35.67Z" fill="#6d2a7a" fill-opacity="1" stroke="#6d2a7a" stroke-opacity="1" stroke-width="1.0"/>
<path d="M541.45,36.73A128,128 0 0 1 543.24,37.3Q503.81,163.43 436.44,59.83L435.96,56.54L438.79,58.28Q503.81,163.53 541.45,36.73Z" fill="#6d2a7a" fill-opacity="1" stroke="#6d2a7a" stroke-opacity="1" stroke-width="0.0"/>
<path d="M543.24,37.3A128,128 0 0 1 543.68,37.45Q504.41,161.69 393.26,112.21L390.58,110.84L393.42,111.82Q504.42,161.7 543.24,37.3Z" fill="#6d2a7a" fill-opacity="0.75" stroke="#6d2a7a" stroke-opacity="0.75" stroke-width="0.0"/>
<path d="M543.68,37.45A128,128 0 0 1 544.13,37.6Q502.85,158.95 544.62,271.01L545.35,273.94L544.01,271.24Q502.87,158.94 543.68,37.45Z" fill="#6d2a7a" fill-opacity="0.75" stroke="#6d2a7a" stroke-opacity="0.75" stroke-width="0.0"/>
<path d="M543.68,37.45A128,128 0 0 1 544.13,37.6Q503.26,158.9 435.75,257.5L433.88,259.86L435.4,257.26Q503.26,158.9 543.68,37.45Z" fill="#6d2a7a" fill-opacity="0.75" stroke="#6d2a7a" stroke-opacity="0.75" stroke-width="0.0"/>
<path d="M543.24,37.3A128,128 0 0 1 543.68,37.45Q504.21,160.2 384.64,173.4L381.64,173.55L384.59,172.99Q504.23,160.22 543.24,37.3Z" fill="#6d2a7a" fill-opacity="0.75" stroke="#6d2a7a" stroke-opacity="0.75" stroke-width="0.0"/>
<path d="M542.79,37.16A128,128 0 0 1 543.24,37.3Q502.87,158.95 544.62,271.01L545.45,273.91L544.21,271.16Q502.89,158.94 542.79,37.16Z" fill="#6d2a7a" fill-opacity="0.75" stroke="#6d2a7a" stroke-opacity="0.75" stroke-width="0.0"/>
</g>
<path d="M568.36,39.49A136,136 0 0 1 637.14,134.96L632.21,135.84A131,131 0 0 0 565.97,43.88Z" fill="#2d0b45"/>
<path d="M639.26,159.09A136,136 0 0 1 636.54,185.97L631.64,184.97A131,131 0 0 0 634.26,159.08Z" fill="#f9e2a4"/>
<path d="M604.44,249.78A136,136 0 0 1 521.69,293.64L521.02,288.69A131,131 0 0 0 600.72,246.44Z" fill="#f7b97a"/>
<path d="M509.97,294.73A136,136 0 0 1 400.76,248.29L404.53,245A131,131 0 0 0 509.73,289.74Z" fill="#f0884e"/>
<path d="M380.79,218.03A136,136 0 0 1 367.33,163.12L372.32,162.97A131,131 0 0 0 385.29,215.85Z" fill="#e8604a"/>
<path d="M367.48,151.21A136,136 0 0 1 384.53,92.57L388.9,95.01A131,131 0 0 0 372.47,151.5Z" fill="#d93a52"/>
<path d="M406.86,62.97A136,136 0 0 1 440.02,38.5L442.35,42.92A131,131 0 0 0 410.4,66.5Z" fill="#b8306c"/>
<path d="M451.19,33.26A136,136 0 0 1 470.31,26.95L471.52,31.8A131,131 0 0 0 453.11,37.88Z" fill="#8a1a6e"/>
<path d="M540.04,27.97A136,136 0 0 1 546.68,30.02L545.09,34.76A131,131 0 0 0 538.69,32.78Z" fill="#5e1672"/>
<path d="M568.51,39.23A136.3,136.3 0 0 1 637.43,134.9M568.51,39.23L569.75,36.95M572.97,41.78L573.69,40.57M577.33,44.49L578.1,43.31M581.59,47.36L582.4,46.21M585.74,50.39L586.59,49.28M589.77,53.58L591.42,51.57M593.68,56.91L594.61,55.86M597.46,60.39L598.43,59.38M601.11,64.01L602.11,63.04M604.61,67.77L605.66,66.83M607.98,71.65L609.97,69.99M611.19,75.66L612.3,74.81M614.25,79.79L615.39,78.98M617.15,84.03L618.32,83.26M619.9,88.37L621.09,87.65M622.47,92.82L624.74,91.56M624.88,97.36L626.13,96.73M627.11,101.99L628.38,101.4M629.17,106.7L630.46,106.16M631.04,111.48L632.36,110.99M632.74,116.33L635.21,115.52M634.25,121.24L635.6,120.85M635.58,126.2L636.94,125.87M636.72,131.21L638.09,130.93M639.56,159.09A136.3,136.3 0 0 1 636.83,186.03M639.56,159.09L642.16,159.09M639.46,164.23L640.85,164.28M639.16,169.36L640.55,169.46M638.67,174.47L640.06,174.63M637.98,179.56L639.37,179.78M637.11,184.63L639.66,185.12M604.66,249.98A136.3,136.3 0 0 1 521.73,293.94M604.66,249.98L606.6,251.72M601.16,253.74L602.16,254.71M597.51,257.36L598.48,258.37M593.74,260.84L594.66,261.89M589.83,264.18L590.72,265.26M585.8,267.37L587.37,269.44M581.65,270.4L582.46,271.55M577.39,273.28L578.16,274.45M573.03,275.99L573.75,277.19M568.57,278.53L569.24,279.76M564.01,280.91L565.17,283.24M559.37,283.11L559.95,284.39M554.65,285.14L555.18,286.44M549.85,286.99L550.33,288.3M544.99,288.65L545.42,289.99M540.07,290.13L540.78,292.64M535.1,291.43L535.43,292.79M530.08,292.53L530.36,293.91M525.03,293.45L525.25,294.83M509.99,295.03A136.3,136.3 0 0 1 400.53,248.48M509.99,295.03L510.12,297.63M504.85,295.19L504.87,296.59M499.72,295.15L499.68,296.55M494.58,294.92L494.49,296.32M489.46,294.5L489.32,295.89M484.36,293.88L484,296.46M479.29,293.08L479.04,294.45M474.25,292.08L473.95,293.44M469.25,290.89L468.9,292.24M464.3,289.51L463.9,290.85M459.4,287.95L458.57,290.41M454.57,286.21L454.07,287.51M449.81,284.28L449.26,285.57M445.12,282.18L444.52,283.44M440.51,279.9L439.87,281.14M436,277.45L434.71,279.71M431.58,274.83L430.84,276.02M427.26,272.04L426.48,273.21M423.05,269.1L422.22,270.23M418.95,266L418.09,267.1M414.98,262.74L413.29,264.72M411.12,259.34L410.18,260.37M407.4,255.8L406.42,256.79M403.82,252.12L402.8,253.07M380.52,218.16A136.3,136.3 0 0 1 367.03,163.13M380.52,218.16L378.17,219.29M378.37,213.49L377.09,214.05M376.4,208.74L375.1,209.26M374.61,203.93L373.29,204.39M373.01,199.05L371.67,199.46M371.59,194.11L369.07,194.78M370.35,189.12L368.99,189.43M369.31,184.09L367.93,184.35M368.45,179.02L367.07,179.23M367.79,173.93L366.4,174.08M367.32,168.81L364.73,169M367.04,163.68L365.64,163.73M367.18,151.2A136.3,136.3 0 0 1 384.27,92.43M367.18,151.2L364.58,151.05M367.56,146.07L366.17,145.94M368.14,140.97L366.76,140.78M368.92,135.89L367.54,135.65M369.88,130.84L368.51,130.55M371.03,125.83L368.51,125.2M372.37,120.87L371.03,120.48M373.9,115.97L372.57,115.53M375.61,111.12L374.3,110.63M377.5,106.34L376.21,105.81M379.57,101.64L377.21,100.55M381.82,97.02L380.57,96.39M384.23,92.49L383.01,91.81M406.65,62.76A136.3,136.3 0 0 1 439.88,38.23M406.65,62.76L404.8,60.92M410.34,59.18L409.38,58.16M414.16,55.75L413.25,54.69M418.11,52.47L417.24,51.37M422.19,49.33L421.35,48.21M426.37,46.36L424.91,44.21M430.67,43.54L429.92,42.35M435.07,40.88L434.37,39.67M439.57,38.4L438.91,37.16M451.08,32.98A136.3,136.3 0 0 1 470.24,26.66M451.08,32.98L450.08,30.58M455.86,31.11L455.37,29.79M460.71,29.41L460.27,28.08M465.62,27.9L465.24,26.55M540.12,27.68A136.3,136.3 0 0 1 546.78,29.73M540.12,27.68L540.82,25.18M545.04,29.16L545.47,27.83" fill="none" stroke="#000" stroke-width="0.75"/>
<g font-size="5.3" fill="#111"><text transform="translate(570.42,35.72) rotate(28.6)" text-anchor="start" dy="-1.2">0</text><text transform="translate(592.31,50.49) rotate(39.4)" text-anchor="middle" dy="-1.2">50000</text><text transform="translate(611.05,69.09) rotate(50.2)" text-anchor="middle" dy="-1.2">1e+05</text><text transform="translate(625.97,90.88) rotate(61)" text-anchor="middle" dy="-1.2">150000</text><text transform="translate(636.54,115.08) rotate(71.8)" text-anchor="middle" dy="-1.2">2e+05</text><text transform="translate(643.56,159.1) rotate(-89.92)" text-anchor="end" dy="3.6">0</text><text transform="translate(642.03,179.57) rotate(-81.53)" text-anchor="middle" dy="3.6">50000</text><text transform="translate(607.64,252.65) rotate(-48.07)" text-anchor="end" dy="3.6">0</text><text transform="translate(588.22,270.55) rotate(-37.27)" text-anchor="middle" dy="3.6">50000</text><text transform="translate(565.8,284.49) rotate(-26.47)" text-anchor="middle" dy="3.6">1e+05</text><text transform="translate(541.15,293.99) rotate(-15.67)" text-anchor="middle" dy="3.6">150000</text><text transform="translate(510.19,299.03) rotate(-2.83)" text-anchor="end" dy="3.6">0</text><text transform="translate(483.81,297.84) rotate(7.97)" text-anchor="middle" dy="3.6">50000</text><text transform="translate(458.12,291.74) rotate(18.77)" text-anchor="middle" dy="3.6">1e+05</text><text transform="translate(434.02,280.93) rotate(29.57)" text-anchor="middle" dy="3.6">150000</text><text transform="translate(412.38,265.79) rotate(40.37)" text-anchor="middle" dy="3.6">2e+05</text><text transform="translate(376.91,219.9) rotate(64.23)" text-anchor="end" dy="3.6">0</text><text transform="translate(367.72,195.14) rotate(75.03)" text-anchor="middle" dy="3.6">50000</text><text transform="translate(363.45,170.61) rotate(85.21)" text-anchor="middle" dy="3.6">1e+05</text><text transform="translate(363.18,150.97) rotate(273.24)" text-anchor="start" dy="-1.2">0</text><text transform="translate(367.15,124.86) rotate(284.04)" text-anchor="middle" dy="-1.2">50000</text><text transform="translate(375.94,99.96) rotate(294.84)" text-anchor="middle" dy="-1.2">1e+05</text><text transform="translate(403.81,59.94) rotate(314.86)" text-anchor="start" dy="-1.2">0</text><text transform="translate(424.12,43.05) rotate(325.66)" text-anchor="middle" dy="-1.2">50000</text><text transform="translate(449.55,29.29) rotate(337.49)" text-anchor="start" dy="-1.2">0</text><text transform="translate(541.2,23.83) rotate(375.69)" text-anchor="start" dy="-1.2">0</text></g>
<g font-size="9.2" fill="#1a1a1a"><text transform="translate(623.75,72.1) rotate(54.23)" text-anchor="middle" dy="0.35em">Offshore</text><text transform="translate(651.01,173.86) rotate(-84.22)" text-anchor="middle" dy="0.35em">Weddell</text><text transform="translate(661.75,174.94) rotate(-84.22)" text-anchor="middle" dy="0.35em">Sea</text><text transform="translate(572.82,290.1) rotate(-27.93)" text-anchor="middle" dy="0.35em">Elephant</text><text transform="translate(577.87,299.64) rotate(-27.93)" text-anchor="middle" dy="0.35em">Island</text><text transform="translate(445.14,295.55) rotate(23.04)" text-anchor="middle" dy="0.35em">South</text><text transform="translate(440.91,305.49) rotate(23.04)" text-anchor="middle" dy="0.35em">Shetlands</text><text transform="translate(359.03,194.26) rotate(76.22)" text-anchor="middle" dy="0.35em">North</text><text transform="translate(348.54,196.83) rotate(76.22)" text-anchor="middle" dy="0.35em">WAP</text><text transform="translate(350.3,114.42) rotate(286.22)" text-anchor="middle" dy="0.35em">Adelie</text><text transform="translate(360.67,117.43) rotate(286.22)" text-anchor="middle" dy="0.35em">Gap</text><text transform="translate(408.67,30.72) rotate(323.57)" text-anchor="middle" dy="0.35em">South</text><text transform="translate(415.09,39.41) rotate(323.57)" text-anchor="middle" dy="0.35em">WAP</text><text transform="translate(453.33,7.63) rotate(341.74)" text-anchor="middle" dy="0.35em">Adelaide</text><text transform="translate(456.72,17.88) rotate(341.74)" text-anchor="middle" dy="0.35em">Island</text><text transform="translate(547.06,17.01) rotate(377.15)" text-anchor="middle" dy="0.35em">Bellingshausen</text></g>
<text x="354.8" y="35.4" font-size="19" font-weight="bold" fill="#000">b</text>
</g>
</svg></body></html>
